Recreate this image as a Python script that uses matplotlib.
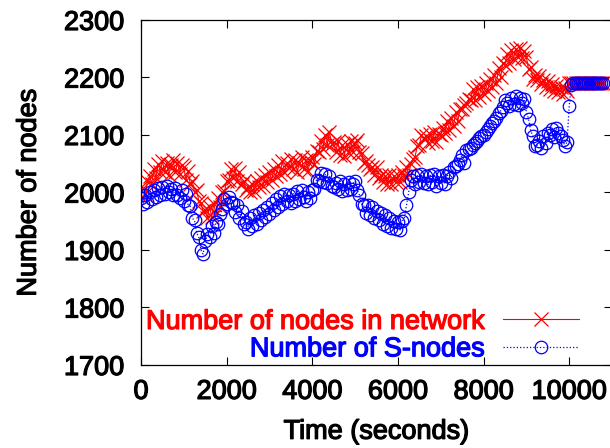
import numpy as np
import matplotlib.pyplot as plt
import matplotlib.patheffects as pe

plt.rcParams['font.family'] = ['Liberation Sans', 'DejaVu Sans']

# sample times (seconds), one every 50 s
time_s = np.arange(0, 10801, 50)

# total number of nodes in the network
nodes_total = [
    1992, 2008, 1998, 2020, 2028, 2015, 2040, 2026, 2050, 2036,
    2055, 2036, 2052, 2030, 2048, 2056, 2035, 2052, 2033, 2048,
    2044, 2022, 2038, 2015, 2020, 2000, 2005, 1985, 1982, 1968,
    1970, 1955, 1975, 1958, 1980, 1963, 1990, 1974, 2000, 2002,
    2020, 2022, 2040, 2026, 2042, 2020, 2036, 2015, 2020, 2005,
    2010, 2000, 2015, 2003, 2020, 2010, 2026, 2012, 2030, 2018,
    2035, 2022, 2040, 2028, 2048, 2032, 2055, 2036, 2052, 2042,
    2058, 2040, 2056, 2036, 2052, 2062, 2040, 2056, 2038, 2054,
    2062, 2050, 2072, 2070, 2090, 2076, 2100, 2083, 2106, 2085,
    2088, 2070, 2090, 2066, 2082, 2064, 2085, 2068, 2090, 2070,
    2086, 2092, 2070, 2068, 2052, 2054, 2048, 2040, 2044, 2030,
    2045, 2025, 2030, 2018, 2028, 2015, 2030, 2015, 2028, 2018,
    2030, 2018, 2036, 2028, 2045, 2030, 2050, 2058, 2062, 2080,
    2082, 2100, 2094, 2098, 2086, 2102, 2090, 2106, 2088, 2102,
    2100, 2112, 2104, 2125, 2108, 2130, 2116, 2140, 2124, 2146,
    2146, 2152, 2156, 2162, 2160, 2180, 2160, 2184, 2166, 2186,
    2172, 2190, 2176, 2198, 2184, 2205, 2190, 2216, 2200, 2226,
    2222, 2240, 2226, 2248, 2232, 2250, 2236, 2252, 2234, 2246,
    2236, 2214, 2218, 2198, 2204, 2196, 2202, 2188, 2196, 2184,
    2194, 2180, 2188, 2176, 2186, 2174, 2184, 2172, 2182, 2176,
    2190, 2190, 2190, 2190, 2190, 2190, 2190, 2190, 2190, 2190,
    2190, 2190, 2190, 2190, 2190, 2190, 2190,
]

# number of S-nodes
s_nodes = [
    1990, 1980, 1996, 1984, 2000, 1988, 2004, 1993, 2008, 1996,
    2010, 1998, 2012, 2000, 2006, 1995, 2008, 1996, 1990, 2004,
    1986, 1998, 1978, 1976, 1955, 1952, 1930, 1922, 1900, 1893,
    1915, 1928, 1922, 1942, 1930, 1948, 1946, 1962, 1972, 1988,
    1980, 1993, 1984, 1982, 1966, 1978, 1956, 1968, 1946, 1948,
    1936, 1955, 1942, 1960, 1946, 1965, 1952, 1970, 1958, 1975,
    1962, 1982, 1970, 1988, 1975, 1994, 1980, 1998, 1985, 1996,
    1982, 1998, 1986, 2002, 1988, 2004, 1992, 1986, 2000, 1990,
    2004, 2006, 2022, 2020, 2034, 2018, 2032, 2016, 2028, 2012,
    2010, 2016, 2006, 2020, 2002, 2014, 2004, 2018, 2006, 2015,
    2020, 2004, 1996, 1980, 1978, 1964, 1978, 1960, 1975, 1956,
    1968, 1952, 1965, 1946, 1960, 1942, 1955, 1938, 1950, 1936,
    1948, 1935, 1950, 1955, 1978, 2000, 2022, 2028, 2015, 2030,
    2018, 2032, 2016, 2028, 2014, 2030, 2018, 2032, 2012, 2028,
    2016, 2030, 2015, 2028, 2035, 2026, 2044, 2046, 2050, 2056,
    2066, 2052, 2074, 2076, 2078, 2082, 2086, 2090, 2094, 2098,
    2100, 2105, 2110, 2115, 2120, 2125, 2130, 2138, 2142, 2148,
    2160, 2156, 2150, 2164, 2154, 2168, 2152, 2164, 2155, 2162,
    2140, 2128, 2108, 2098, 2080, 2082, 2090, 2078, 2098, 2086,
    2104, 2100, 2110, 2096, 2112, 2104, 2098, 2092, 2080, 2088,
    2150, 2187, 2190, 2190, 2190, 2190, 2190, 2190, 2190, 2190,
    2190, 2190, 2190, 2190, 2190, 2190, 2190,
]

fig = plt.figure(figsize=(6.10, 4.48), dpi=100)
ax = fig.add_axes([141 / 610, 83 / 448, 471 / 610, 345 / 448])

ax.plot(time_s, nodes_total, color='#ff0000', linestyle='-', linewidth=0.8,
        marker='x', markersize=10, markeredgewidth=0.9,
        label='Number of nodes in network')
ax.plot(time_s, s_nodes, color='#0000ff', linestyle=':', linewidth=0.9,
        marker='o', markersize=9, markerfacecolor='none', markeredgewidth=0.9,
        label='Number of S-nodes')

ax.set_xlim(0, 11000)
ax.set_ylim(1700, 2300)
ax.set_xticks(range(0, 10001, 2000))
ax.set_yticks(range(1700, 2301, 100))
ax.tick_params(direction='in', top=True, right=True, length=6, width=0.8,
               labelsize=19.5)
ax.tick_params(axis='x', pad=10)
ax.tick_params(axis='y', pad=12)
for sp in ax.spines.values():
    sp.set_linewidth(0.9)

# heavier strokes like the original gnuplot text
bold_k = [pe.withStroke(linewidth=0.9, foreground='black')]
for lab in ax.get_xticklabels() + ax.get_yticklabels():
    lab.set_path_effects(bold_k)

ax.set_xlabel('Time (seconds)', fontsize=19.5, labelpad=10, path_effects=bold_k)
ax.set_ylabel('Number of nodes', fontsize=19.5, labelpad=16, path_effects=bold_k)

leg = ax.legend(loc='lower right', bbox_to_anchor=(0.935, 0.0), frameon=False,
                markerfirst=False, labelcolor='linecolor', fontsize=19.5,
                handlelength=2.8, handletextpad=0.65, labelspacing=0.05,
                borderpad=0.1, borderaxespad=0.0, numpoints=1)
for txt in leg.get_texts():
    txt.set_path_effects([pe.withStroke(linewidth=0.9, foreground=txt.get_color())])

fig.savefig('out.png', dpi=100)
